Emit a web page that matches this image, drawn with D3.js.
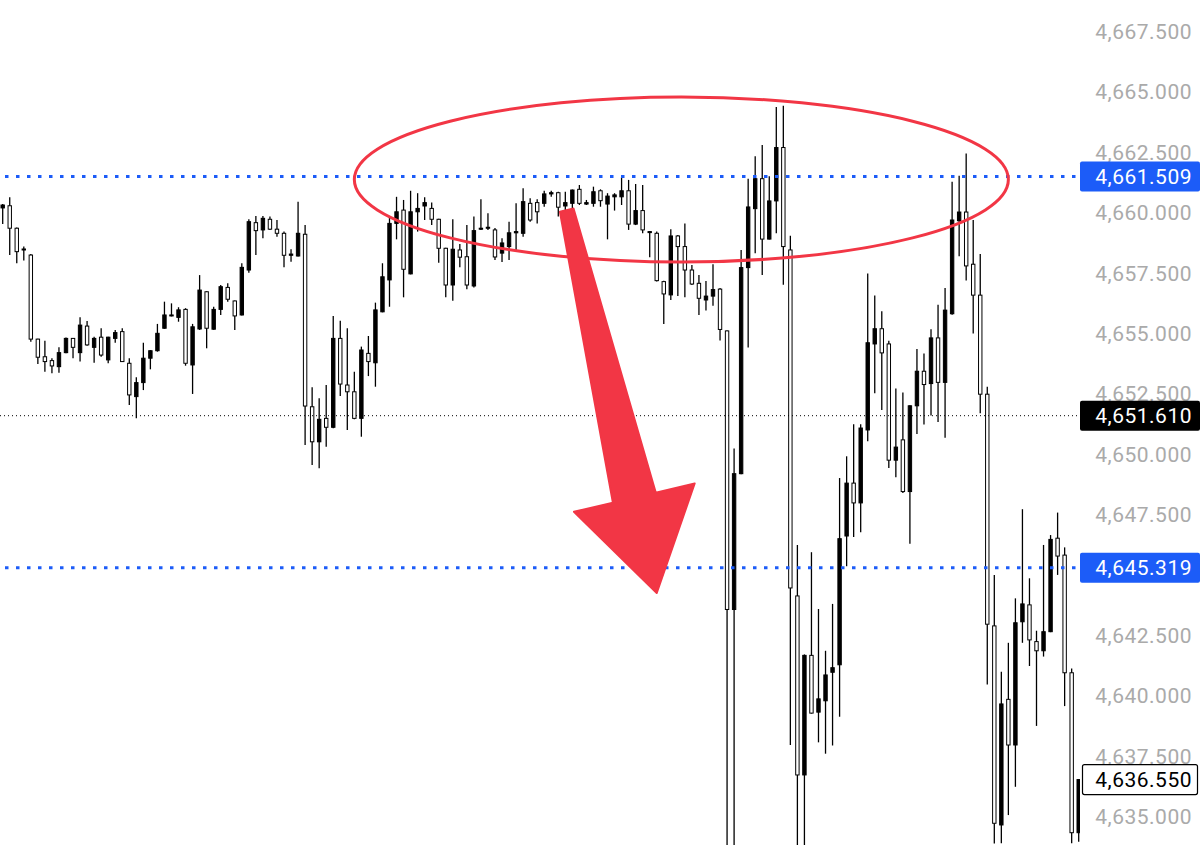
<!DOCTYPE html>
<html><head><meta charset="utf-8">
<script src="https://cdnjs.cloudflare.com/ajax/libs/d3/7.8.5/d3.min.js"></script>
<style>html,body{margin:0;padding:0;background:#fff;} svg{display:block;}</style>
</head><body><svg id="chart" width="1200" height="845"></svg>
<script>
// ---- data (prices) ----
const opens = [4660.21,4660.30,4659.37,4658.47,4658.26,4654.78,4654.05,4653.89,4653.64,4654.22,
4654.81,4654.22,4655.32,4654.44,4654.86,4653.92,4654.81,4655.09,4653.78,4652.40,
4652.98,4653.99,4654.30,4655.23,4655.74,4655.68,4656.01,4653.71,4655.20,4656.74,
4655.19,4656.01,4656.92,4656.36,4655.78,4657.64,4659.60,4659.30,4659.74,4659.33,
4659.16,4658.25,4658.22,4659.12,4651.98,4650.53,4651.50,4651.13,4654.81,4652.88,
4652.60,4651.50,4654.19,4653.80,4655.91,4657.23,4659.57,4660.12,4657.48,4660.05,
4660.29,4660.19,4659.74,4658.54,4657.02,4658.47,4658.19,4656.98,4659.33,4659.37,
4659.30,4658.34,4658.61,4659.18,4659.16,4660.40,4660.43,4660.40,4660.79,4660.84,
4660.29,4660.40,4660.98,4660.37,4660.40,4660.92,4660.37,4660.67,4660.67,4660.92,
4659.54,4660.10,4659.20,4659.16,4657.16,4656.61,4659.05,4658.61,4657.64,4657.09,
4656.40,4656.56,4656.85,4655.12,4643.59,4649.21,4657.74,4660.18,4661.42,4658.92,
4660.50,4662.71,4658.47,4644.15,4636.74,4641.69,4639.34,4639.81,4640.99,4641.30,
4646.63,4648.82,4648.00,4651.02,4654.58,4655.21,4654.58,4649.77,4650.61,4648.47,
4652.02,4653.45,4652.94,4654.83,4652.99,4655.83,4659.68,4660.04,4657.88,4656.60,
4652.50,4642.91,4634.67,4639.87,4637.98,4643.08,4643.78,4642.26,4641.88,4642.67,
4646.54,4645.84,4640.97,4634.35];
const highs = [4660.37,4660.65,4659.40,4658.61,4658.30,4654.80,4654.71,4653.99,4654.44,4654.85,
4654.83,4655.68,4655.53,4654.88,4655.23,4654.88,4655.16,4655.23,4653.99,4653.20,
4654.63,4654.32,4655.41,4656.33,4656.26,4656.10,4656.06,4655.41,4657.43,4656.76,
4656.12,4657.02,4657.09,4656.38,4657.92,4659.74,4659.88,4659.88,4659.85,4659.71,
4659.23,4658.50,4660.47,4659.50,4652.79,4652.33,4652.88,4655.74,4655.54,4655.23,
4653.43,4654.47,4654.91,4656.29,4657.92,4659.88,4660.67,4660.54,4660.92,4660.82,
4660.65,4660.43,4659.76,4658.56,4659.74,4658.72,4659.50,4659.85,4660.57,4659.99,
4659.38,4658.95,4659.64,4660.40,4661.02,4660.61,4660.57,4660.92,4660.92,4660.88,
4660.88,4660.97,4661.16,4660.54,4661.09,4660.98,4660.82,4660.82,4661.48,4661.37,
4661.20,4661.16,4659.25,4659.23,4657.20,4659.33,4659.09,4659.57,4657.85,4657.43,
4657.19,4657.88,4656.90,4655.14,4650.25,4658.47,4661.42,4662.35,4662.81,4661.52,
4664.39,4664.44,4659.06,4646.26,4641.73,4645.96,4643.61,4641.88,4643.82,4649.03,
4649.93,4651.26,4651.26,4657.50,4656.59,4655.93,4654.71,4652.74,4652.57,4652.04,
4654.37,4654.18,4655.19,4656.20,4656.90,4661.29,4661.54,4662.46,4659.71,4658.30,
4652.81,4645.02,4641.01,4642.21,4644.05,4647.74,4644.88,4642.71,4646.26,4646.67,
4647.60,4646.16,4641.15,4636.55];
const lows = [4659.54,4658.26,4657.92,4658.03,4654.67,4653.75,4653.43,4653.37,4653.39,4654.20,
4653.99,4653.85,4654.51,4653.80,4654.05,4653.78,4654.63,4653.83,4652.05,4651.50,
4652.67,4653.53,4654.26,4655.21,4655.72,4655.50,4653.68,4652.51,4655.16,4654.40,
4655.17,4655.78,4656.33,4655.16,4655.76,4657.53,4658.26,4658.95,4659.30,4659.02,
4657.75,4657.98,4658.20,4650.40,4649.57,4649.43,4650.33,4651.09,4652.43,4651.02,
4651.46,4650.74,4653.25,4652.81,4655.89,4656.12,4658.91,4656.51,4657.46,4659.23,
4659.71,4659.50,4657.94,4656.51,4656.37,4657.75,4656.84,4656.92,4659.30,4659.30,
4658.05,4657.97,4658.05,4658.47,4659.02,4659.64,4659.57,4660.26,4660.67,4659.85,
4660.05,4659.92,4660.33,4660.33,4660.26,4660.26,4658.91,4660.10,4660.33,4659.30,
4659.50,4659.16,4658.17,4657.16,4655.41,4656.40,4656.56,4656.51,4657.02,4655.78,
4655.96,4656.16,4654.72,4633.30,4633.70,4649.19,4654.43,4658.33,4657.43,4658.90,
4659.16,4657.03,4637.98,4633.70,4633.70,4639.28,4638.09,4637.62,4637.96,4639.15,
4645.38,4646.59,4646.79,4650.55,4652.54,4651.85,4649.45,4649.06,4648.41,4646.31,
4650.85,4651.25,4651.62,4651.35,4650.70,4655.79,4658.21,4657.21,4655.01,4651.71,
4640.48,4633.90,4633.91,4635.08,4636.25,4642.21,4641.25,4638.77,4641.64,4642.65,
4645.02,4639.59,4633.91,4633.98];
const closes = [4660.33,4659.37,4658.40,4658.51,4654.78,4654.03,4653.85,4653.67,4654.22,4654.81,
4654.44,4655.36,4654.54,4654.81,4654.12,4654.86,4655.05,4653.85,4652.47,4652.98,
4653.99,4654.30,4655.02,4655.78,4655.78,4655.99,4653.78,4655.29,4656.81,4655.23,
4656.01,4656.95,4656.43,4655.74,4657.75,4659.64,4659.27,4659.78,4659.33,4659.16,
4658.25,4658.30,4659.16,4652.01,4650.53,4651.46,4651.13,4654.81,4652.92,4652.60,
4651.50,4654.33,4653.85,4655.99,4657.36,4659.57,4660.05,4657.67,4660.05,4660.19,
4660.43,4659.74,4658.54,4657.02,4658.50,4658.17,4657.02,4659.27,4659.37,4659.41,
4658.18,4658.76,4659.18,4659.23,4660.47,4659.71,4660.05,4660.79,4660.84,4660.24,
4660.43,4660.95,4660.40,4660.43,4660.88,4660.51,4660.70,4660.75,4660.92,4659.54,
4660.10,4659.30,4659.23,4657.20,4656.65,4659.05,4658.61,4657.64,4657.06,4656.47,
4656.56,4656.83,4655.18,4643.59,4649.21,4657.74,4660.25,4661.42,4658.92,4660.50,
4662.71,4658.61,4644.48,4636.74,4641.69,4639.30,4639.89,4640.88,4641.18,4646.52,
4648.82,4648.00,4651.10,4654.63,4655.21,4654.21,4649.77,4650.31,4648.47,4652.02,
4653.45,4652.90,4654.83,4652.99,4655.98,4659.71,4660.04,4657.81,4656.60,4652.50,
4642.98,4634.74,4639.68,4637.98,4643.04,4643.82,4642.33,4641.88,4642.67,4646.49,
4645.80,4640.97,4634.35,4636.55];

const tickValues = [4635, 4637.5, 4640, 4642.5, 4645, 4647.5, 4650, 4652.5, 4655, 4657.5, 4660, 4662.5, 4665, 4667.5];
const blueLevels = [4661.509, 4645.319];
const refLevel = 4651.610;
const lastPrice = 4636.550;

// annotation anchors in data space (candle index, price)
const ellipseSpan = {i0: 50, i1: 143, pTop: 4664.80, pBot: 4657.97};
const arrowTail = {i: 80.2, p: 4660.12};
const arrowTip = {i: 93.0, p: 4644.27};

// ---- layout ----
const W = 1200, H = 845, plotRight = 1080;
const BLUE = "#1c5cf8", RED = "#f23645";
const FONT = "Roboto, 'Open Sans', sans-serif";
const FS = "21px", LS = "0.5px";

const svg = d3.select("#chart");
svg.append("rect").attr("width", W).attr("height", H).attr("fill", "#fff");

const y = d3.scaleLinear().domain([4635, 4667.5]).range([817, 31.8]);
const x = d3.scalePoint().domain(d3.range(opens.length)).range([2.7, 1078.7]);
const xi = d3.scaleLinear().domain([0, opens.length - 1]).range([2.7, 1078.7]);

svg.append("clipPath").attr("id", "plotclip").append("rect")
  .attr("x", 0).attr("y", 0).attr("width", plotRight).attr("height", H);

const plot = svg.append("g").attr("clip-path", "url(#plotclip)");

const candles = d3.range(opens.length).map(i => ({i, o: opens[i], h: highs[i], l: lows[i], c: closes[i]}));
const bodyW = 3.4;

const cg = plot.append("g");
cg.selectAll("line.wick").data(candles).join("line").attr("class", "wick")
  .attr("x1", d => x(d.i)).attr("x2", d => x(d.i))
  .attr("y1", d => y(d.h)).attr("y2", d => y(d.l))
  .attr("stroke", "#000").attr("stroke-width", 1.3);
cg.selectAll("rect.body").data(candles).join("rect").attr("class", "body")
  .attr("x", d => x(d.i) - bodyW / 2)
  .attr("y", d => y(Math.max(d.o, d.c)))
  .attr("width", bodyW)
  .attr("height", d => Math.max(1, Math.abs(y(d.o) - y(d.c))))
  .attr("fill", d => d.c >= d.o ? "#000" : "#fff")
  .attr("stroke", "#000").attr("stroke-width", 1);

// reference dotted line
plot.append("line").attr("x1", 0).attr("x2", plotRight)
  .attr("y1", y(refLevel)).attr("y2", y(refLevel))
  .attr("stroke", "#000").attr("stroke-width", 1).attr("stroke-dasharray", "1 3");

// blue dotted levels
plot.selectAll("line.blue").data(blueLevels).join("line").attr("class", "blue")
  .attr("x1", 5).attr("x2", plotRight)
  .attr("y1", d => y(d)).attr("y2", d => y(d))
  .attr("stroke", BLUE).attr("stroke-width", 3).attr("stroke-dasharray", "3.5 7.5");

// ellipse
const ex0 = xi(ellipseSpan.i0), ex1 = xi(ellipseSpan.i1);
const ey0 = y(ellipseSpan.pTop), ey1 = y(ellipseSpan.pBot);
plot.append("ellipse")
  .attr("cx", (ex0 + ex1) / 2).attr("cy", (ey0 + ey1) / 2)
  .attr("rx", (ex1 - ex0) / 2).attr("ry", (ey1 - ey0) / 2)
  .attr("fill", "none").attr("stroke", RED).attr("stroke-width", 3);

// arrow
(function () {
  const T = [xi(arrowTail.i), y(arrowTail.p)], P = [xi(arrowTip.i), y(arrowTip.p)];
  const dx = P[0] - T[0], dy = P[1] - T[1], len = Math.hypot(dx, dy);
  const u = [dx / len, dy / len], n = [-u[1], u[0]];
  const headLen = 98, headHalf = 62, shaftBase = 22, shaftTop = 7;
  const B = [P[0] - u[0] * headLen, P[1] - u[1] * headLen];
  const pt = (c, k) => [c[0] + n[0] * k, c[1] + n[1] * k];
  const pts = [pt(T, shaftTop), pt(B, shaftBase), pt(B, headHalf), P, pt(B, -headHalf), pt(B, -shaftBase), pt(T, -shaftTop)];
  plot.append("path").attr("d", d3.line()(pts) + "Z").attr("fill", RED).attr("stroke", RED)
    .attr("stroke-width", 2).attr("stroke-linejoin", "round");
})();

// price labels (boxes hide tick labels that sit under them)
const labels = [
  {v: blueLevels[0], bg: BLUE, fg: "#fff", stroke: "none"},
  {v: refLevel, bg: "#000", fg: "#fff", stroke: "none"},
  {v: blueLevels[1], bg: BLUE, fg: "#fff", stroke: "none"},
  {v: lastPrice, bg: "#fff", fg: "#000", stroke: "#000"}
];
const shownTicks = tickValues.filter(t => labels.every(l => Math.abs(y(t) - y(l.v)) > 14));

// price axis
const axisG = svg.append("g").attr("transform", `translate(1192,0)`)
  .call(d3.axisRight(y).tickValues(shownTicks).tickFormat(d3.format(",.3f")).tickSize(0).tickPadding(0));
axisG.select(".domain").remove();
axisG.selectAll("text").attr("text-anchor", "end").attr("x", 0)
  .attr("fill", "#aaaaaa").style("font-family", FONT).style("font-size", FS).style("letter-spacing", LS);

const lg = svg.append("g").selectAll("g").data(labels).join("g")
  .attr("transform", d => `translate(0,${y(d.v)})`);
lg.append("rect").attr("x", d => d.stroke === "none" ? 1080 : 1082.5).attr("y", -15)
  .attr("width", d => d.stroke === "none" ? 120 : 115).attr("height", 30).attr("rx", 2)
  .attr("fill", d => d.bg).attr("stroke", d => d.stroke).attr("stroke-width", 1.2);
lg.append("text").attr("x", 1192).attr("y", 0).attr("dy", "0.35em").attr("text-anchor", "end")
  .attr("fill", d => d.fg).style("font-family", FONT).style("font-size", FS).style("letter-spacing", LS)
  .text(d => d3.format(",.3f")(d.v));
</script>
</body></html>
